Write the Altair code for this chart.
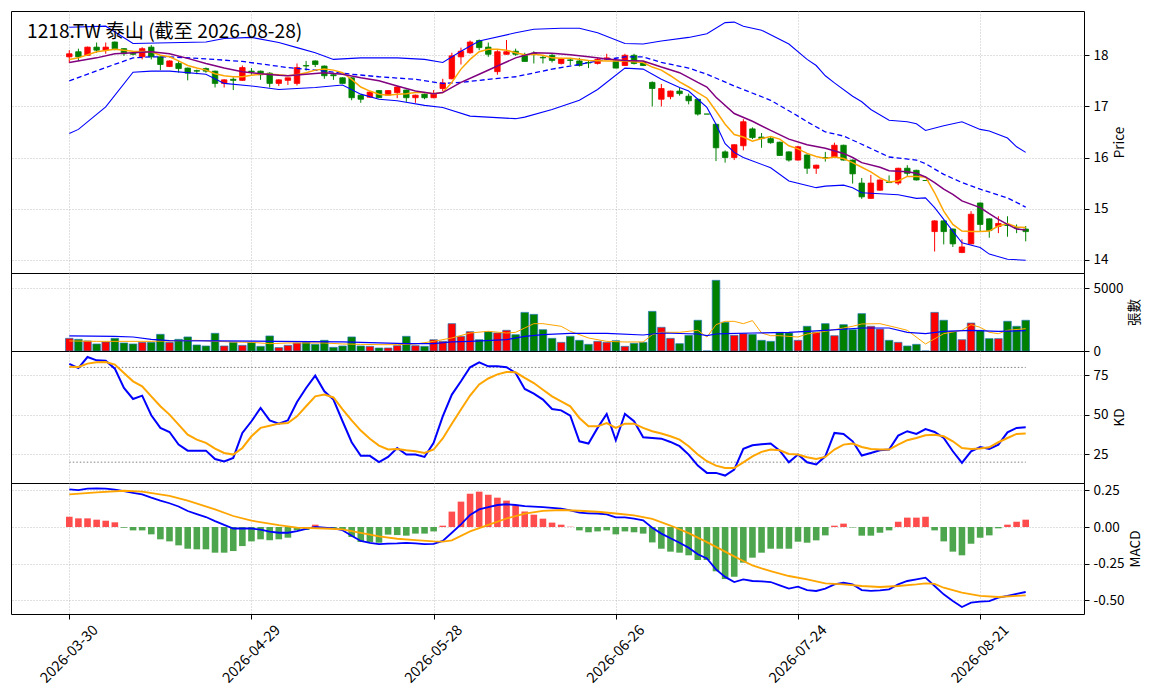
import altair as alt
import pandas as pd

FONT = "Noto Sans CJK TC"
TITLE = "1218.TW 泰山 (截至 2026-08-28)"

tick_idx = [0, 20, 40, 60, 80, 100]
tick_labels = ["2026-03-30", "2026-04-29", "2026-05-28", "2026-06-26", "2026-07-24", "2026-08-21"]

opens = [17.97,18.07,18.00,18.16,18.10,18.26,18.13,18.04,17.97,18.16,
17.97,17.78,17.84,17.75,17.70,17.74,17.69,17.45,17.53,17.51,
17.69,17.69,17.65,17.45,17.51,17.45,17.80,17.89,17.79,17.62,
17.56,17.56,17.22,17.18,17.31,17.22,17.27,17.32,17.17,17.24,
17.17,17.35,17.54,17.97,18.05,18.29,18.16,17.68,18.02,18.08,
18.00,18.04,17.96,18.00,17.84,17.91,17.89,17.86,17.84,17.92,
17.89,17.80,18.00,17.86,17.47,17.14,17.19,17.30,17.20,17.14,
16.85,16.65,16.11,16.00,16.23,16.56,16.40,16.37,16.30,16.11,
15.95,16.05,15.79,16.00,16.00,16.24,15.95,15.50,15.20,15.36,
15.52,15.50,15.79,15.75,15.55,14.55,14.76,14.60,14.14,14.31,
15.11,14.80,14.65,14.68,14.63,14.60]
highs = [18.10,18.13,18.17,18.25,18.25,18.27,18.14,18.06,18.16,18.20,
17.98,17.90,17.89,17.76,17.72,17.76,17.70,17.53,17.57,17.80,
17.75,17.70,17.67,17.53,17.56,17.84,17.89,17.90,17.80,17.66,
17.57,17.57,17.23,17.30,17.32,17.32,17.40,17.33,17.23,17.25,
17.32,17.54,18.05,18.15,18.29,18.31,18.25,18.10,18.30,18.13,
18.05,18.08,17.99,18.03,17.95,17.95,17.95,17.90,17.95,18.03,
17.95,18.03,18.03,17.89,17.49,17.44,17.31,17.36,17.25,17.15,
16.85,16.66,16.14,16.26,16.75,16.59,16.48,16.40,16.31,16.12,
16.23,16.06,15.86,16.11,16.29,16.25,15.96,15.60,15.66,15.57,
15.65,15.80,15.85,15.76,15.55,14.77,14.77,14.61,14.40,14.95,
15.12,14.81,14.85,14.85,14.69,14.66]
lows = [17.85,17.89,17.99,18.05,18.03,18.10,17.99,18.00,17.92,17.92,
17.71,17.77,17.66,17.51,17.63,17.66,17.37,17.37,17.32,17.50,
17.62,17.52,17.37,17.40,17.42,17.41,17.70,17.77,17.54,17.52,
17.45,17.12,17.07,17.17,17.17,17.21,17.16,17.09,17.07,17.14,
17.16,17.30,17.53,17.82,18.03,18.10,17.97,17.62,18.01,17.99,
17.88,17.84,17.84,17.86,17.82,17.81,17.78,17.75,17.82,17.91,
17.75,17.80,17.82,17.79,17.00,17.00,17.14,17.21,17.04,16.82,
16.85,15.93,15.90,15.95,16.14,16.36,16.19,16.27,16.03,15.92,
15.94,15.68,15.68,15.92,15.99,15.94,15.49,15.19,15.19,15.35,
15.50,15.46,15.64,15.55,15.55,14.16,14.30,14.25,14.13,14.30,
14.56,14.43,14.52,14.45,14.52,14.36]
closes = [18.03,17.97,18.16,18.10,18.16,18.13,18.03,18.02,18.13,17.97,
17.82,17.89,17.74,17.65,17.69,17.69,17.45,17.52,17.51,17.76,
17.67,17.62,17.45,17.52,17.56,17.76,17.79,17.82,17.60,17.60,
17.45,17.17,17.14,17.28,17.17,17.31,17.38,17.17,17.22,17.17,
17.25,17.46,17.99,18.08,18.26,18.15,18.02,18.07,18.07,18.02,
17.88,18.02,17.95,17.90,17.93,17.90,17.80,17.85,17.92,17.95,
17.75,18.00,17.84,17.80,17.35,17.35,17.30,17.25,17.11,16.85,
16.85,16.19,16.00,16.25,16.70,16.39,16.37,16.29,16.04,15.95,
16.21,15.79,15.85,15.99,16.24,15.95,15.68,15.23,15.50,15.56,
15.51,15.79,15.69,15.56,15.55,14.76,14.55,14.31,14.25,14.89,
14.69,14.57,14.71,14.67,14.62,14.55]
volumes = [1010,930,800,560,720,1010,640,560,690,690,
1330,690,930,1120,480,400,1410,400,690,450,
690,370,1200,270,450,640,690,530,850,290,
400,1120,400,370,240,240,425,1170,425,370,
900,770,2180,1170,1540,900,1540,1440,1650,1300,
3080,2920,1700,1010,690,1170,850,530,770,690,
820,370,610,690,3160,1890,1010,585,1250,2450,
0,5635,2290,1250,1380,1330,850,770,1490,1440,
850,1970,1490,2180,1220,2100,1700,2980,1970,1750,
850,690,400,530,0,3080,2450,1570,900,2230,
1650,985,985,2370,1970,2450]

# price overlays, read as (bar index, value)
bb_upper = [(0,18.55),(4,18.57),(7,18.23),(15,18.26),(17,18.33),(20,18.35),(23,18.25),(25,18.15),
            (27,18.05),(29,17.92),(32,17.95),(36,17.95),(39,17.92),(41,17.86),(43,18.08),(45,18.28),
            (49,18.44),(51,18.51),(54,18.53),(56,18.53),(58,18.44),(61,18.23),(63,18.22),(65,18.28),
            (68,18.35),(70,18.42),(72,18.64),(73,18.65),(74,18.57),(76,18.49),(79,18.22),(81,17.92),
            (82,17.80),(83,17.60),(84,17.46),(86,17.20),(87,17.09),(88,16.94),(90,16.73),(92,16.70),
            (93,16.66),(94,16.53),(96,16.62),(98,16.70),(100,16.55),(101,16.52),(103,16.38),(104,16.21),(105,16.10)]
bb_lower = [(0,16.47),(1,16.55),(4,16.99),(7,17.67),(9,17.69),(11,17.69),(15,17.63),(17,17.45),(20,17.40),
            (23,17.33),(27,17.37),(30,17.42),(32,17.24),(34,17.14),(36,17.11),(39,17.02),(41,16.98),
            (44,16.81),(49,16.76),(50,16.79),(53,16.94),(56,17.12),(58,17.33),(61,17.75),(63,17.73),
            (65,17.53),(67,17.37),(68,17.30),(69,17.14),(70,16.98),(71,16.65),(72,16.27),(73,16.10),
            (74,16.00),(77,15.80),(79,15.54),(82,15.41),(83,15.44),(85,15.46),(86,15.41),(87,15.31),
            (89,15.29),(91,15.27),(93,15.20),(94,15.21),(95,15.02),(96,14.79),(97,14.56),(98,14.33),
            (100,14.24),(101,14.11),(103,14.01),(105,13.99)]
bb_mid = [(0,17.50),(4,17.76),(7,17.95),(9,17.97),(11,17.97),(15,17.93),(19,17.88),(24,17.76),(27,17.71),
          (31,17.63),(34,17.58),(38,17.53),(41,17.45),(43,17.47),(46,17.53),(49,17.58),(53,17.73),
          (56,17.82),(58,17.89),(61,17.97),(63,17.97),(65,17.86),(68,17.75),(70,17.63),(73,17.40),
          (77,17.12),(80,16.81),(81,16.70),(83,16.50),(85,16.42),(87,16.26),(90,16.01),(93,15.95),
          (94,15.88),(96,15.67),(98,15.51),(100,15.38),(103,15.21),(105,15.03)]
ma_orange = [(0,17.92),(1,17.95),(3,18.07),(5,18.12),(7,18.08),(9,18.07),(10,18.00),(11,17.97),(12,17.89),
             (13,17.80),(14,17.75),(15,17.71),(16,17.64),(17,17.60),(18,17.58),(19,17.58),(20,17.61),
             (21,17.63),(22,17.63),(23,17.62),(24,17.60),(25,17.62),(26,17.66),(27,17.71),(28,17.73),
             (29,17.71),(30,17.66),(31,17.53),(32,17.38),(33,17.30),(34,17.24),(35,17.22),(36,17.24),
             (37,17.25),(38,17.27),(39,17.27),(40,17.25),(41,17.27),(42,17.47),(43,17.73),(44,17.92),
             (45,18.07),(46,18.12),(47,18.12),(48,18.10),(49,18.05),(50,18.01),(51,18.02),(52,18.00),
             (53,17.95),(54,17.94),(55,17.94),(57,17.90),(59,17.89),(61,17.89),(63,17.86),(64,17.77),
             (65,17.71),(66,17.60),(67,17.48),(68,17.38),(69,17.27),(70,17.16),(71,16.91),(72,16.65),
             (73,16.45),(74,16.40),(75,16.32),(76,16.37),(77,16.41),(78,16.36),(79,16.23),(80,16.17),
             (81,16.08),(82,16.02),(83,15.98),(84,16.01),(85,15.98),(86,15.90),(87,15.81),(88,15.72),
             (89,15.60),(90,15.52),(91,15.54),(92,15.63),(93,15.63),(94,15.62),(95,15.31),(96,14.95),
             (97,14.69),(98,14.56),(99,14.55),(100,14.55),(101,14.56),(102,14.66),(103,14.71),
             (104,14.64),(105,14.63)]
ma_purple = [(0,17.86),(3,17.95),(5,18.03),(7,18.05),(9,18.07),(11,18.03),(13,17.94),(15,17.84),(17,17.75),
             (19,17.68),(21,17.64),(23,17.61),(24,17.60),(26,17.63),(28,17.66),(30,17.63),(32,17.56),
             (34,17.50),(36,17.40),(38,17.30),(40,17.25),(41,17.27),(43,17.47),(45,17.63),(47,17.79),
             (49,17.95),(51,18.05),(53,18.04),(55,18.01),(57,17.97),(59,17.93),(61,17.90),(63,17.89),
             (65,17.77),(67,17.66),(69,17.47),(70,17.38),(71,17.18),(73,16.86),(75,16.71),(77,16.53),
             (79,16.36),(81,16.25),(83,16.18),(85,16.08),(86,16.00),(87,15.90),(89,15.81),(90,15.74),
             (92,15.72),(93,15.69),(94,15.62),(95,15.51),(96,15.38),(97,15.28),(98,15.15),(100,15.02),
             (101,14.90),(102,14.79),(103,14.69),(104,14.60),(105,14.58)]

# volume overlays
vol_ma_short = [(0,800),(3,770),(6,770),(9,770),(12,820),(14,850),(16,770),(18,720),(20,690),(22,585),
                (24,640),(26,640),(28,640),(30,560),(32,530),(34,505),(36,505),(38,560),(40,770),(42,1040),
                (44,1435),(46,1570),(48,1435),(49,1490),(50,1835),(51,2180),(52,2180),(54,1970),(55,1570),
                (57,1040),(59,770),(61,720),(63,720),(64,1300),(65,1490),(67,1490),(69,1650),(70,1115),
                (71,2100),(72,2365),(73,2365),(74,2180),(75,2420),(76,1435),(77,1220),(78,1220),(80,1115),
                (81,1355),(83,1570),(85,1835),(86,1970),(87,2155),(89,2180),(91,1835),(92,1650),(94,560),
                (96,1380),(98,1650),(99,2100),(100,1890),(101,1490),(102,1380),(103,1650),(105,1780)]
vol_ma_long = [(0,1200),(5,1170),(7,1115),(9,920),(11,820),(16,800),(23,770),(30,720),(34,640),(37,585),
               (40,585),(42,720),(44,770),(48,900),(50,1170),(52,1300),(55,1410),(59,1410),(63,1275),
               (65,1435),(69,1355),(70,1220),(71,1355),(72,1380),(75,1435),(79,1490),(83,1650),(87,1835),
               (90,1835),(92,1490),(94,1380),(96,1570),(99,1650),(102,1570),(105,1620)]

k_vals = [82.2,79.6,86.6,84.5,84.3,79.2,67.0,60.0,62.1,49.7,
41.7,39.1,31.1,27.3,27.3,27.3,22.0,20.4,22.7,38.5,
45.9,54.3,46.5,44.4,46.5,58.1,67.0,74.8,64.9,59.6,
45.9,32.6,24.0,24.0,20.1,23.3,29.0,24.8,24.8,23.3,
32.2,49.0,62.8,71.2,80.1,83.2,80.7,80.7,80.1,76.5,
66.4,63.4,59.6,53.7,52.8,49.5,33.2,31.8,41.7,50.5,
33.9,50.5,45.9,35.8,35.3,34.9,32.8,30.1,24.8,17.8,
13.2,13.2,11.5,15.3,28.4,30.7,31.3,31.8,27.3,19.9,
24.8,19.9,18.5,23.7,38.5,37.9,33.2,24.2,25.8,27.5,
28.0,36.8,39.6,37.9,41.0,39.1,35.3,26.9,19.5,26.9,
29.6,28.4,31.1,38.9,41.7,42.1]
d_vals = [80.5,80.3,82.4,83.2,83.4,81.8,76.5,71.2,68.0,61.7,
55.4,50.1,43.8,37.4,34.3,32.2,28.6,25.8,24.8,29.0,
36.4,41.7,43.1,44.4,44.8,49.0,55.4,61.7,62.8,61.0,
53.5,46.5,40.0,34.8,30.5,28.0,28.4,27.5,26.9,25.8,
28.0,35.0,44.3,53.3,62.2,69.2,73.0,75.6,77.1,76.9,
73.4,70.1,65.9,61.7,58.5,55.4,48.0,42.7,42.7,44.8,
41.7,44.4,44.4,41.7,39.6,38.1,36.4,34.3,30.1,24.8,
20.6,17.8,16.3,16.3,19.9,23.7,26.5,28.0,27.5,25.2,
24.8,23.1,22.0,23.3,28.0,31.1,31.8,29.6,28.4,28.0,
28.0,31.1,33.9,35.3,37.0,37.4,36.4,33.2,29.0,28.4,
28.6,29.4,32.6,35.3,37.9,38.1]
kd_levels = [80, 20]

macd_hist = [0.070,0.059,0.059,0.050,0.043,0.032,-0.005,-0.023,-0.023,-0.050,
-0.084,-0.098,-0.125,-0.148,-0.152,-0.152,-0.175,-0.175,-0.164,-0.130,
-0.098,-0.084,-0.091,-0.084,-0.073,-0.022,-0.020,0.016,-0.005,-0.007,
-0.016,-0.068,-0.102,-0.102,-0.107,-0.052,-0.055,-0.059,-0.045,-0.045,
-0.030,0.009,0.105,0.173,0.227,0.241,0.220,0.200,0.180,0.148,
0.105,0.084,0.057,0.030,0.016,0.002,-0.023,-0.036,-0.030,-0.023,
-0.050,-0.030,-0.036,-0.045,-0.105,-0.148,-0.168,-0.175,-0.193,-0.225,
-0.225,-0.302,-0.355,-0.339,-0.243,-0.209,-0.175,-0.148,-0.148,-0.148,
-0.100,-0.107,-0.091,-0.057,0.009,0.023,-0.003,-0.059,-0.059,-0.039,
-0.023,0.036,0.064,0.064,0.070,-0.023,-0.098,-0.168,-0.193,-0.114,
-0.073,-0.057,-0.009,0.016,0.036,0.050]
dif_line = [(0,0.257),(1,0.252),(2,0.262),(3,0.263),(4,0.262),(5,0.255),(6,0.245),(7,0.233),(8,0.222),
            (9,0.200),(10,0.180),(11,0.162),(12,0.140),(13,0.109),(14,0.088),(15,0.068),(16,0.040),
            (17,0.014),(18,-0.010),(19,-0.009),(20,-0.010),(21,-0.018),(22,-0.032),(23,-0.039),(24,-0.039),
            (25,-0.028),(26,-0.012),(27,0.000),(28,-0.004),(29,-0.010),(30,-0.022),(31,-0.060),(32,-0.095),
            (33,-0.108),(34,-0.116),(35,-0.113),(36,-0.112),(37,-0.108),(38,-0.112),(39,-0.117),(40,-0.115),
            (41,-0.095),(42,-0.039),(43,0.018),(44,0.082),(45,0.120),(46,0.136),(47,0.150),(48,0.155),
            (49,0.150),(50,0.143),(51,0.139),(52,0.136),(53,0.130),(54,0.125),(55,0.114),(56,0.098),
            (57,0.093),(58,0.092),(59,0.086),(60,0.066),(61,0.066),(62,0.057),(63,0.045),(64,-0.005),
            (65,-0.045),(66,-0.077),(67,-0.107),(68,-0.141),(69,-0.186),(70,-0.214),(71,-0.289),(72,-0.340),
            (73,-0.375),(74,-0.357),(75,-0.368),(76,-0.370),(77,-0.375),(78,-0.398),(79,-0.420),(80,-0.407),
            (81,-0.430),(82,-0.436),(83,-0.420),(84,-0.391),(85,-0.380),(86,-0.391),(87,-0.430),(88,-0.436),
            (89,-0.432),(90,-0.425),(91,-0.391),(92,-0.368),(93,-0.357),(94,-0.345),(95,-0.402),(96,-0.459),
            (97,-0.505),(98,-0.545),(99,-0.516),(100,-0.509),(101,-0.505),(102,-0.482),(103,-0.470),
            (104,-0.455),(105,-0.443)]
dea_line = [(0,0.223),(3,0.236),(6,0.247),(8,0.241),(11,0.212),(13,0.180),(16,0.120),(18,0.075),(20,0.043),
            (23,0.013),(25,-0.004),(28,-0.010),(30,-0.016),(32,-0.040),(34,-0.064),(36,-0.080),(38,-0.090),
            (40,-0.098),(41,-0.099),(42,-0.091),(44,-0.030),(46,0.015),(48,0.058),(50,0.092),(52,0.110),
            (54,0.116),(56,0.111),(58,0.104),(60,0.092),(62,0.080),(64,0.055),(66,0.010),(68,-0.042),
            (70,-0.103),(72,-0.168),(73,-0.200),(74,-0.232),(75,-0.261),(76,-0.282),(77,-0.300),(79,-0.334),
            (81,-0.357),(83,-0.384),(85,-0.391),(87,-0.402),(89,-0.409),(91,-0.402),(93,-0.391),(94,-0.384),
            (95,-0.388),(96,-0.414),(98,-0.448),(100,-0.470),(102,-0.477),(104,-0.470),(105,-0.466)]

# ---------------- data frames ----------------
n = len(closes)
bars = pd.DataFrame({"i": list(range(n)), "o": opens, "h": highs, "l": lows, "c": closes,
                     "vol": volumes, "zero": [0] * n, "k": k_vals, "d": d_vals, "hist": macd_hist})


def pairs(p):
    return pd.DataFrame(p, columns=["i", "v"])


W = 1073
XDOM = [-6.4, 111.4]
GRID = dict(grid=True, gridColor="#b0b0b0", gridDash=[1, 2], gridWidth=0.8)
label_expr = " : ".join(f"datum.value == {i} ? '{t}'" for i, t in zip(tick_idx, tick_labels)) + " : ''"

UP, DOWN = "#ff0000", "#008000"
candle_color = alt.condition("datum.c > datum.o", alt.value(UP), alt.value(DOWN))
hist_color = alt.condition("datum.hist >= 0", alt.value("#ff4d4d"), alt.value("#4da64d"))


def X(field="i", bottom=False):
    if bottom:
        ax = alt.Axis(values=tick_idx, labelExpr=label_expr, labelAngle=315, labelAlign="center",
                      labelBaseline="middle", labelPadding=35, tickSize=5, title=None, domain=False,
                      labelOverlap=False, labelFlush=False, labelFontSize=14.5, **GRID)
    else:
        ax = alt.Axis(values=tick_idx, labels=False, ticks=False, domain=False, title=None, **GRID)
    return alt.X(f"{field}:Q", scale=alt.Scale(domain=XDOM, nice=False, zero=False, padding=0), axis=ax)


def Y(field, domain, values, title, fmt_expr=None):
    kw = dict(orient="right", values=values, title=title, titleAngle=270, titleBaseline="top",
              tickSize=5, labelPadding=4, titlePadding=5, domain=False, **GRID)
    if fmt_expr:
        kw["labelExpr"] = fmt_expr
    return alt.Y(f"{field}:Q", scale=alt.Scale(domain=domain, nice=False, zero=False, padding=0),
                 axis=alt.Axis(**kw))


# ---------------- main price panel ----------------
PD = [13.74, 18.867]
PV = [14, 15, 16, 17, 18]
wick = alt.Chart(bars).mark_rule(strokeWidth=1).encode(
    x=X(), y=Y("l", PD, PV, "Price"), y2="h:Q", color=candle_color)
body = alt.Chart(bars).mark_bar(size=5.5, strokeWidth=0.8).encode(
    x=X(), y=Y("o", PD, PV, "Price"), y2="c:Q", color=candle_color, stroke=candle_color)


def pline(p, color, width, dash=None, field_dom=PD, vals=PV, title="Price", fmt=None, bottom=False):
    kw = dict(color=color, strokeWidth=width, clip=True)
    if dash:
        kw["strokeDash"] = dash
    return alt.Chart(pairs(p)).mark_line(**kw).encode(
        x=X(bottom=bottom), y=Y("v", field_dom, vals, title, fmt))


title_layer = alt.Chart(pd.DataFrame({"t": [TITLE]})).mark_text(
    align="left", baseline="middle", font=FONT, fontSize=19.2, color="black").encode(
    x=alt.value(16), y=alt.value(21), text="t:N")

main = alt.layer(
    wick, body,
    pline(bb_upper, "#0000ff", 1.1),
    pline(bb_lower, "#0000ff", 1.1),
    pline(bb_mid, "#0000ff", 1.3, dash=[5, 3]),
    pline(ma_orange, "#ffa500", 1.5),
    pline(ma_purple, "#800080", 1.5),
    title_layer,
).properties(width=W, height=262)

# ---------------- volume panel ----------------
VD = [0, 6220]
VV = [0, 5000]
vfmt = "format(datum.value, 'd')"
vbars = alt.Chart(bars).mark_bar(size=7.6, stroke="#1f77b4", strokeWidth=0.7).encode(
    x=X(), y=Y("vol", VD, VV, "張數", vfmt), y2="zero:Q", color=candle_color)
volume = alt.layer(
    vbars,
    pline(vol_ma_short, "#ffa500", 1.0, field_dom=VD, vals=VV, title="張數", fmt=vfmt),
    pline(vol_ma_long, "#0000ff", 1.2, field_dom=VD, vals=VV, title="張數", fmt=vfmt),
).properties(width=W, height=78)

# ---------------- KD panel ----------------
KDD = [6.8, 90.4]
KDV = [25, 50, 75]
lvl = pd.DataFrame({"i": [0] * len(kd_levels), "i2": [n - 1] * len(kd_levels), "y": kd_levels})
kd_rules = alt.Chart(lvl).mark_rule(color="#808080", strokeWidth=1, strokeDash=[1.5, 2]).encode(
    x=X(), x2="i2:Q", y=Y("y", KDD, KDV, "KD"))
k_line = alt.Chart(bars).mark_line(color="#0000ff", strokeWidth=2).encode(x=X(), y=Y("k", KDD, KDV, "KD"))
d_line = alt.Chart(bars).mark_line(color="#ffa500", strokeWidth=2).encode(x=X(), y=Y("d", KDD, KDV, "KD"))
kd = alt.layer(kd_rules, k_line, d_line).properties(width=W, height=132)

# ---------------- MACD panel ----------------
MD = [-0.593, 0.30]
MV = [-0.5, -0.25, 0.0, 0.25]
mfmt = "replace(format(datum.value, '.2f'), '\u2212', '-')"
hbars = alt.Chart(bars).mark_bar(size=6.6).encode(
    x=X(bottom=True), y=Y("hist", MD, MV, "MACD", mfmt), y2="zero:Q", color=hist_color)
macd = alt.layer(
    hbars,
    pline(dif_line, "#0000ff", 1.8, field_dom=MD, vals=MV, title="MACD", fmt=mfmt, bottom=True),
    pline(dea_line, "#ffa500", 1.8, field_dom=MD, vals=MV, title="MACD", fmt=mfmt, bottom=True),
).properties(width=W, height=131)

chart = alt.vconcat(main, volume, kd, macd, spacing=0, bounds="flush").properties(
    padding={"left": 2, "top": 2, "right": 2, "bottom": 2}
).configure_view(stroke="black", strokeWidth=1).configure_axis(
    labelFont=FONT, titleFont=FONT, labelFontSize=13.5, titleFontSize=13.5, titleFontWeight="normal",
    labelColor="black", titleColor="black", tickColor="black", domainColor="black"
).configure_scale(continuousPadding=0).configure_concat(spacing=0)

chart.save("out.html", embed_options={"renderer": "svg", "actions": False})
